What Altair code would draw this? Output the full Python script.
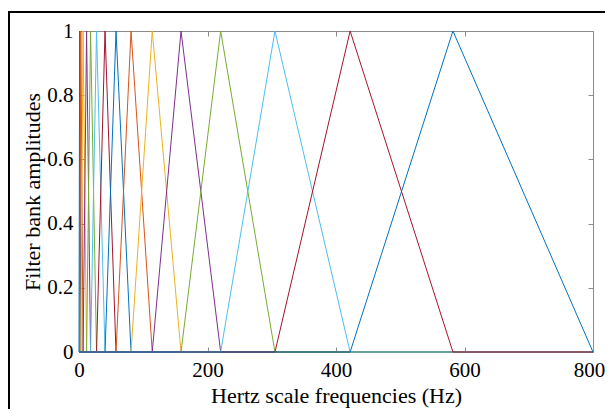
import altair as alt
import pandas as pd

# Filter-bank edge / centre frequencies (Hz)
edges = [0, 1.0, 2.8, 6.3, 11.8, 18.0, 27.3, 40.5, 57.6, 81.0, 114.0,
         158.8, 220.5, 305.0, 422.0, 582.0, 800.0]
x_ticks = [0, 200, 400, 600, 800]
y_ticks = [0, 0.2, 0.4, 0.6, 0.8, 1]
matlab_colors = ["#0072BD", "#D95319", "#EDB120", "#7E2F8E",
                 "#77AC30", "#4DBEEE", "#A2142F"]

n = len(edges) - 2
rows = []
for k in range(1, n + 1):
    name = f"f{k:02d}"
    pts = [(edges[0], 0), (edges[k - 1], 0), (edges[k], 1),
           (edges[k + 1], 0), (edges[-1], 0)]
    for i, (f, a) in enumerate(pts):
        rows.append({"filter": name, "hz": f, "amp": a, "ord": i})
df = pd.DataFrame(rows)
names = [f"f{k:02d}" for k in range(1, n + 1)]
colors = [matlab_colors[(k - 1) % 7] for k in range(1, n + 1)]

font = "Liberation Serif"
grey = "#8c8c8c"
xscale = alt.Scale(domain=[0, 800], nice=False, zero=False)
yscale = alt.Scale(domain=[0, 1], nice=False)

lines = alt.Chart(df).mark_line(strokeWidth=1, clip=False).encode(
    x=alt.X("hz:Q", scale=xscale,
            axis=alt.Axis(values=x_ticks, title="Hertz scale frequencies (Hz)",
                          offset=-5, tickSize=5, domain=False, grid=False,
                          labelPadding=7, titleX=257, titleY=48,
                          titleBaseline="middle", labelFlush=False,
                          labelOffset=alt.ExprRef("datum.value == 800 ? -4 : 0"))),
    y=alt.Y("amp:Q", scale=yscale,
            axis=alt.Axis(values=y_ticks, format="~g",
                          title="Filter bank amplitudes",
                          offset=-5, tickSize=5, domain=False, grid=False,
                          labelPadding=6, titleX=-51.5, titleY=160.5,
                          titleBaseline="middle", labelFlush=False)),
    color=alt.Color("filter:N", scale=alt.Scale(domain=names, range=colors),
                    legend=None),
    order="ord:Q",
)

ghost = alt.Chart(df).mark_point(opacity=0).encode(
    x=alt.X("hz:Q", scale=xscale,
            axis=alt.Axis(orient="top", values=x_ticks, labels=False, title="",
                          offset=-5, tickSize=5, domain=False, grid=False)),
    y=alt.Y("amp:Q", scale=yscale,
            axis=alt.Axis(orient="right", values=y_ticks, labels=False, title="",
                          offset=-5, tickSize=5, domain=False, grid=False)),
)

frame = alt.Chart(pd.DataFrame({"a": [0]})).mark_rect(
    fillOpacity=0, stroke="black", strokeWidth=2, clip=False
).encode(
    x=alt.value(-70), x2=alt.value(640), y=alt.value(-19), y2=alt.value(460)
)

chart = alt.layer(frame, lines, ghost).resolve_axis(
    x="independent", y="independent"
).properties(
    width=514, height=321,
    padding={"left": 71, "top": 23, "right": 12, "bottom": 57},
    autosize=alt.AutoSizeParams(type="none"),
).configure_view(
    stroke=grey, strokeWidth=1
).configure_axis(
    labelFont=font, titleFont=font, labelFontSize=21, titleFontSize=22,
    labelColor="black", titleColor="black", tickColor=grey,
    titleFontWeight="normal", tickWidth=1
)

chart.save("out.html", embed_options={"renderer": "svg", "actions": False})
